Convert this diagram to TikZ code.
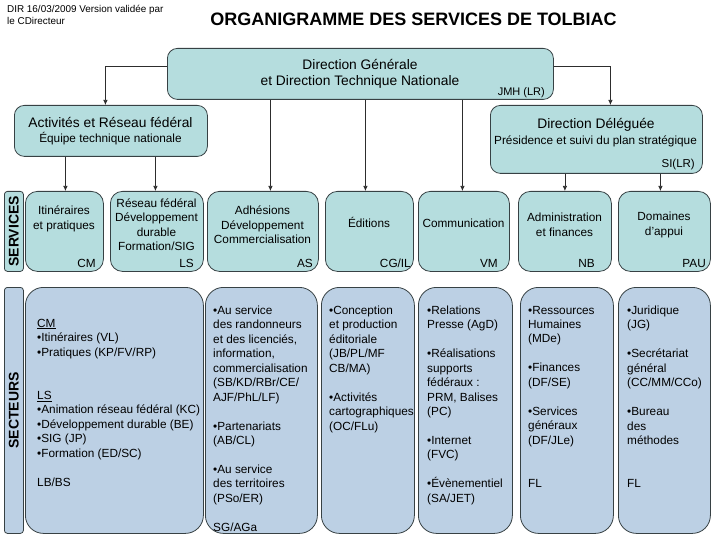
\documentclass[tikz,border=0pt]{standalone}
\usepackage{fontspec}
\setmainfont{Liberation Sans}
\usetikzlibrary{arrows.meta,calc}
\definecolor{tealf}{RGB}{181,221,222}
\definecolor{secf}{RGB}{188,208,228}
\definecolor{bord}{RGB}{55,65,68}
\definecolor{lnk}{RGB}{45,45,45}
\begin{document}
\begin{tikzpicture}[x=1pt,y=-1pt,
  hbox/.style={draw=bord, fill=tealf, rounded corners=10pt, line width=0.8pt, anchor=north west, inner sep=0pt},
  sbox/.style={draw=bord, fill=tealf, rounded corners=12pt, line width=0.8pt, anchor=north west, inner sep=0pt, minimum height=80pt},
  cbox/.style={draw=bord, fill=secf, rounded corners=18pt, line width=0.8pt, anchor=north west, inner sep=0pt, minimum height=246pt},
  lbox/.style={draw=bord, line width=0.8pt, rounded corners=3pt, anchor=north west, inner sep=0pt, minimum width=19pt},
  arr/.style={draw=lnk, line width=0.7pt, -{Latex[length=5pt,width=4.5pt]}},
  txt/.style={inner sep=0pt, font=\fontsize{11.8}{14.45}\selectfont},
  one/.style={txt, text height=0.75em, text depth=0.2em},
  big/.style={inner sep=0pt, font=\fontsize{13.8}{16}\selectfont, text height=0.75em, text depth=0.2em},
  tc/.style={txt, align=center},
  tl/.style={txt, align=left, anchor=north west},
  code/.style={one, anchor=east},
  vlab/.style={inner sep=0pt, rotate=90, font=\bfseries\fontsize{14}{14}\selectfont}
]
\useasboundingbox (0,0) rectangle (720,540);

% header texts
\node[inner sep=0pt, anchor=north west, align=left, font=\fontsize{9.9}{12}\selectfont] (dir) at (7,5.5)
  {DIR 16/03/2009 Version validée par\\le CDirecteur};
\node[inner sep=0pt, font=\bfseries\fontsize{18}{20}\selectfont] (title) at (413.5,19.5)
  {ORGANIGRAMME DES SERVICES DE TOLBIAC};

% top level
\node[hbox, minimum width=386pt, minimum height=51pt] (top) at (167,48) {};
\node[tc, font=\fontsize{13.8}{16}\selectfont] (toptx) at (360,74)
  {Direction Générale\\et Direction Technique Nationale};
\node[inner sep=0pt, anchor=east, font=\fontsize{11}{13}\selectfont, text height=0.75em, text depth=0.2em] (jmh) at (545,92.5) {JMH (LR)};

\node[hbox, minimum width=193pt, minimum height=51pt] (act) at (14,105) {};
\node[big] (acttx1) at (110.5,124.3) {Activités et Réseau fédéral};
\node[one] (acttx2) at (110.5,139.5) {Équipe technique nationale};

\node[hbox, minimum width=212pt, minimum height=68pt] (dd) at (490,105) {};
\node[big] (ddtx1) at (596,126) {Direction Déléguée};
\node[one] (ddtx2) at (595.5,141.7) {Présidence et suivi du plan stratégique};
\node[inner sep=0pt, anchor=east, font=\fontsize{11.5}{13}\selectfont, text height=0.75em, text depth=0.2em] (si) at (695,165) {SI(LR)};

% services row
\node[lbox, fill=tealf, minimum height=80pt] (slab) at (4,191) {};
\node[vlab] (slabtx) at (slab.center) {SERVICES};

\node[sbox, minimum width=78pt] (itin) at (25,191) {};
\node[tc] (itintx) at (64,219) {Itinéraires\\et pratiques};
\node[code] (itincd) at (96,264.3) {CM};

\node[sbox, minimum width=93pt] (res) at (110,191) {};
\node[tc] (restx) at (156.5,224.5) {Réseau fédéral\\Développement\\durable\\Formation/SIG};
\node[code] (rescd) at (194,264.3) {LS};

\node[sbox, minimum width=111pt] (adh) at (207,191) {};
\node[tc] (adhtx) at (262.5,225) {Adhésions\\Développement\\Commercialisation};
\node[code] (adhcd) at (313,264.3) {AS};

\node[sbox, minimum width=88pt] (edi) at (325,191) {};
\node[one] (editx) at (369,225) {Éditions};
\node[code] (edicd) at (411,264.3) {CG/IL};

\node[sbox, minimum width=91pt] (com) at (418,191) {};
\node[one] (comtx) at (463.5,225) {Communication};
\node[code] (comcd) at (498,264.3) {VM};

\node[sbox, minimum width=93pt] (adm) at (518,191) {};
\node[tc] (admtx) at (564.5,224.8) {Administration\\et finances};
\node[code] (admcd) at (595,264.3) {NB};

\node[sbox, minimum width=92pt] (dom) at (618,191) {};
\node[tc] (domtx) at (664,224.8) {Domaines\\d’appui};
\node[code] (domcd) at (706,264.3) {PAU};

% secteurs row
\node[lbox, fill=secf, minimum height=246pt] (clab) at (4,287) {};
\node[vlab] (clabtx) at (clab.center) {SECTEURS};

\node[cbox, minimum width=178pt] (c1) at (25,287) {};
\node[tl] (c1tx) at (37,318.7) {\underline{CM}\\
•Itinéraires (VL)\\
•Pratiques (KP/FV/RP)\\[28.9pt]
\underline{LS}\\
•Animation réseau fédéral (KC)\\
•Développement durable (BE)\\
•SIG (JP)\\
•Formation (ED/SC)\\[14.45pt]
LB/BS};

\node[cbox, minimum width=112pt] (c2) at (205,287) {};
\node[tl] (c2tx) at (213,305.7) {•Au service\\
des randonneurs\\
et des licenciés,\\
information,\\
commercialisation\\
(SB/KD/RBr/CE/\\
AJF/PhL/LF)\\[14.45pt]
•Partenariats\\
(AB/CL)\\[14.45pt]
•Au service\\
des territoires\\
(PSo/ER)\\[14.45pt]
SG/AGa};

\node[cbox, minimum width=93pt] (c3) at (321,287) {};
\node[tl] (c3tx) at (329,305.7) {•Conception\\
et production\\
éditoriale\\
(JB/PL/MF\\
CB/MA)\\[14.45pt]
•Activités\\
cartographiques\\
(OC/FLu)};

\node[cbox, minimum width=94pt] (c4) at (418,287) {};
\node[tl] (c4tx) at (427,305.7) {•Relations\\
Presse (AgD)\\[14.45pt]
•Réalisations\\
supports\\
fédéraux :\\
PRM, Balises\\
(PC)\\[14.45pt]
•Internet\\
(FVC)\\[14.45pt]
•Évènementiel\\
(SA/JET)};

\node[cbox, minimum width=93pt] (c5) at (520,287) {};
\node[tl] (c5tx) at (528,305.7) {•Ressources\\
Humaines\\
(MDe)\\[14.45pt]
•Finances\\
(DF/SE)\\[14.45pt]
•Services\\
généraux\\
(DF/JLe)\\[28.9pt]
FL};

\node[cbox, minimum width=92pt] (c6) at (618,287) {};
\node[tl] (c6tx) at (627,305.7) {•Juridique\\
(JG)\\[14.45pt]
•Secrétariat\\
général\\
(CC/MM/CCo)\\[14.45pt]
•Bureau\\
des\\
méthodes\\[28.9pt]
FL};

% connectors
\draw[arr] ($(top.north west)!0.353!(top.south west)$) -| ([xshift=-5.5pt]act.north);
\draw[arr] ($(top.north east)!0.353!(top.south east)$) -| ([xshift=14pt]dd.north);
\draw[arr] ([xshift=7.5pt]adh.north |- top.south) -- ([xshift=7.5pt]adh.north);
\draw[arr] ([xshift=-4pt]edi.north |- top.south) -- ([xshift=-4pt]edi.north);
\draw[arr] ([xshift=-1.5pt]com.north |- top.south) -- ([xshift=-1.5pt]com.north);
\draw[arr] ([xshift=1pt]itin.north |- act.south) -- ([xshift=1pt]itin.north);
\draw[arr] ([xshift=-1.5pt]res.north |- act.south) -- ([xshift=-1.5pt]res.north);
\draw[arr] (adm.north |- dd.south) -- (adm.north);
\draw[arr] ([xshift=-4pt]dom.north |- dd.south) -- ([xshift=-4pt]dom.north);
\end{tikzpicture}
\end{document}
